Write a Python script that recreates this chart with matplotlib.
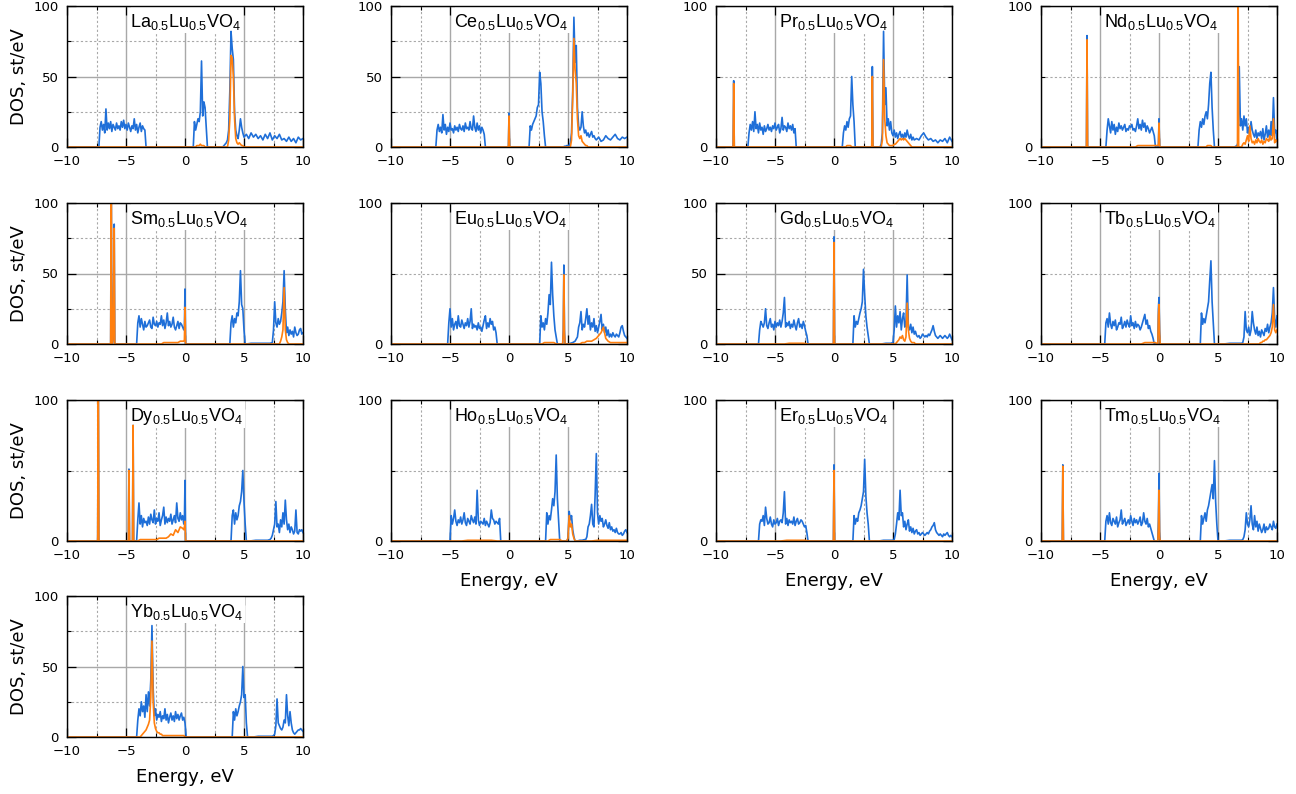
import numpy as np
import matplotlib
matplotlib.use("Agg")
import matplotlib.pyplot as plt
from matplotlib.ticker import MultipleLocator
from matplotlib.patches import Rectangle

# ---------------------------------------------------------------------------
# DOS data: each series is a list of segments (start energy, step, values).
# Values are DOS in states/eV; between segments the DOS is zero.
# "tot" = total DOS, "f" = rare-earth f-states DOS.
# ---------------------------------------------------------------------------
compounds = ["La", "Ce", "Pr", "Nd", "Sm", "Eu", "Gd", "Tb", "Dy", "Ho", "Er", "Tm", "Yb"]
wide_y_ticks = ["La", "Ce", "Sm", "Gd", "Yb"]   # panels labelled 0/50/100

la_tot = [
    (-7.3, 0.1, [0, 14, 18, 12, 16, 10, 27, 12, 17, 13, 18, 11, 16, 14, 12, 17, 13, 15, 12, 18, 14, 19, 13, 16,
                 12, 17, 14, 11, 15, 13, 20, 12, 16, 10, 14, 17, 11, 15, 13, 12, 0]),
    (0.7, 0.1, [0, 18, 12, 16, 20, 18, 25, 61, 22, 32, 28, 14, 0]),
    (3.2, 0.1, [0, 1, 2, 3, 5, 12, 40, 82, 70, 62, 25, 12, 8, 6, 12, 20, 14, 10, 7]),
    (5.2, 0.2, [9, 6, 10, 7, 9, 6, 8, 5, 9, 6, 10, 5, 8, 6, 9, 5, 6, 4, 7, 4, 6, 3, 7, 5, 6]),
]
la_f = [
    (0.9, 0.1, [0, 1, 1, 1, 2, 1, 1, 1, 0]),
    (3.6, 0.1, [0, 5, 20, 65, 63, 50, 20, 6, 3, 2, 3, 2, 1, 1, 0]),
]

ce_tot = [
    (-6.2, 0.1, [0, 12, 16, 11, 14, 10, 23, 12, 16, 9, 14, 11, 17, 12, 13, 10, 15, 12, 14, 11, 16, 13, 12, 15,
                 11, 17, 13, 14, 12, 18, 13, 12, 22, 14, 11, 17, 12, 15, 10, 14, 12, 9, 0]),
    (-0.1, 0.05, [0, 0, 24, 0, 0]),
    (1.7, 0.1, [0, 15, 12, 16, 18, 20, 22, 28, 30, 53, 45, 25, 18, 8, 0]),
    (4.6, 0.1, [0, 0.5, 0.5, 1, 1, 1, 3, 10, 40, 92, 60, 72, 28, 15, 12, 14, 25, 15, 10, 12, 8, 10, 7, 9, 11,
                7, 8, 6, 5]),
    (7.6, 0.2, [7, 4, 5, 8, 6, 5, 7, 9, 6, 5, 7, 6, 7]),
]
ce_f = [
    (-0.1, 0.05, [0, 0, 22, 0, 0]),
    (5.2, 0.1, [0, 5, 35, 77, 55, 45, 20, 8, 6, 8, 4, 3, 2, 1, 1, 0]),
]

pr_tot = [
    (-8.55, 0.05, [0, 47, 0]),
    (-7.3, 0.1, [0, 10, 16, 12, 18, 11, 25, 13, 16, 10, 17, 12, 14, 9, 15, 11, 13, 16, 12, 14, 11, 15, 13, 17,
                 12, 14, 16, 10, 13, 21, 12, 15, 14, 11, 17, 13, 15, 12, 16, 10, 13, 0]),
    (0.7, 0.1, [0, 10, 15, 12, 18, 14, 20, 22, 50, 30, 18, 0]),
    (3.2, 0.05, [0, 57, 0]),
    (3.9, 0.1, [0, 2, 10, 82, 30, 42, 15, 20, 12, 18, 10, 8, 12, 7, 10, 6, 9, 11, 7, 9, 6, 10, 7, 12, 8, 6, 9,
                5, 7, 5]),
    (7.0, 0.2, [6, 5, 8, 10, 7, 5, 6, 4, 5, 3, 5, 4, 6, 3, 7, 4]),
]
pr_f = [
    (-8.55, 0.05, [0, 45, 0]),
    (1.0, 0.1, [0, 1, 1, 1, 1, 0]),
    (3.2, 0.05, [0, 50, 0]),
    (4.0, 0.1, [0, 5, 62, 20, 8, 3, 2, 1, 1, 1, 1, 2, 2, 3, 4, 5, 6, 5, 6, 5, 6, 5, 4, 3, 2, 1, 0]),
]

nd_tot = [
    (-6.15, 0.05, [0, 79, 0]),
    (-4.5, 0.1, [0, 12, 20, 15, 10, 18, 12, 16, 9, 14, 11, 17, 13, 15, 12, 14, 16, 11, 13, 12, 15, 14, 16, 12,
                 13, 11, 15, 20, 13, 16, 12, 19, 14, 17, 11, 15, 13, 10, 12, 14, 11, 8, 0]),
    (-0.1, 0.05, [0, 0, 20, 0, 0]),
    (3.3, 0.1, [0, 12, 18, 14, 20, 16, 22, 25, 20, 30, 45, 53, 28, 12, 0]),
    (6.4, 0.1, [0, 0.5, 1, 3, 57, 15, 20, 12, 22, 15, 20, 10, 14, 8, 18, 12, 9, 7, 12, 6, 10, 8, 11, 6, 13, 5,
                9, 15, 7, 12, 5, 18, 8, 35, 10, 12, 4]),
]
nd_f = [
    (-6.15, 0.05, [0, 76, 0]),
    (-2.0, 0.2, [0, 1, 1, 1, 1, 1, 1, 1, 1, 1]),
    (-0.1, 0.05, [1, 1, 17, 1, 0]),
    (4.0, 0.1, [0, 1, 1, 1, 1, 0]),
    (6.6, 0.05, [0, 0, 130, 0, 0]),
    (7.0, 0.1, [0, 2, 3, 2, 5, 8, 4, 15, 6, 3, 4, 2, 5, 3, 6, 4, 3, 5, 2, 4, 3, 6, 5, 4, 8, 5, 6, 20, 3, 5, 4]),
]

sm_tot = [
    (-6.35, 0.05, [0, 0, 130, 0, 0, 3, 40, 85, 0]),
    (-4.1, 0.1, [0, 15, 20, 12, 18, 14, 10, 16, 12, 13, 15, 17, 12, 11, 19, 14, 13, 16, 12, 15, 14, 20, 13, 17,
                 11, 15, 22, 13, 16, 12, 14, 19, 12, 10, 13, 16, 11, 15, 14, 12, 10]),
    (-0.05, 0.05, [12, 39, 0]),
    (3.8, 0.1, [0, 15, 20, 12, 18, 15, 22, 20, 30, 52, 28, 25, 10, 0]),
    (5.2, 0.4, [0, 0.5, 0.5, 0.5, 0.5, 0.5]),
    (7.4, 0.1, [1, 10, 30, 15, 12, 18, 14, 16, 22, 30, 52, 25, 8, 12, 6, 10, 7, 9, 5, 12, 8, 6, 7, 10, 11, 7, 8]),
]
sm_f = [
    (-6.35, 0.05, [0, 0, 130, 0, 0, 3, 38, 82, 0]),
    (-2.0, 0.2, [0, 1, 1, 1, 1, 1, 1, 1, 2, 2]),
    (-0.1, 0.05, [2, 3, 26, 0]),
    (8.0, 0.1, [0, 2, 5, 10, 40, 10, 3, 1, 0]),
]

eu_tot = [
    (-5.2, 0.1, [0, 15, 25, 12, 18, 10, 14, 16, 11, 20, 13, 12, 17, 14, 11, 15, 13, 18, 12, 16, 25, 11, 14, 12,
                 13, 10, 15, 11, 12, 9, 13, 17, 20, 11, 15, 12, 18, 14, 16, 10, 12, 8, 0]),
    (2.6, 0.1, [0, 20, 12, 15, 10, 18, 14, 22, 35, 28, 58, 35, 20, 10, 5, 0]),
    (4.55, 0.05, [0, 10, 56, 10, 0]),
    (5.0, 0.2, [0, 0.5, 1, 2, 5]),
    (5.9, 0.1, [12, 15, 23, 10, 14, 12, 18, 25, 14, 20, 10, 15, 12, 18, 9, 13, 8, 12, 16, 21, 10, 14, 8, 12, 6,
                10, 5, 7, 5, 8, 6, 5, 7, 6, 5, 8, 12, 13, 9, 6, 5, 4]),
]
eu_f = [
    (2.8, 0.2, [0, 1, 1, 1, 1, 1, 0]),
    (4.55, 0.05, [0, 8, 49, 8, 0]),
    (6.0, 0.2, [0, 1, 1, 2, 2, 2, 3, 4, 6, 8, 12, 4, 2, 1, 1, 1, 1, 1, 1, 1, 1]),
]

gd_tot = [
    (-6.4, 0.1, [0, 10, 16, 14, 12, 15, 25, 13, 11, 15, 18, 12, 14, 10, 16, 12, 15, 13, 17, 12, 16, 22, 33, 12,
                 15, 13, 16, 11, 14, 12, 17, 13, 10, 15, 18, 12, 14, 11, 16, 13, 9, 6, 0]),
    (-0.05, 0.05, [0, 76, 0]),
    (1.6, 0.1, [0, 20, 12, 16, 14, 18, 22, 25, 30, 53, 35, 20, 12, 6, 0]),
    (4.0, 0.4, [0, 0.5, 0.5]),
    (5.0, 0.1, [1, 10, 27, 12, 20, 15, 23, 10, 18, 22, 12, 15, 49, 12, 10, 14, 8, 12, 7, 9, 6, 5, 6, 4, 5, 7, 6,
                5, 6, 5, 7, 6, 8, 10, 13, 9, 6, 5, 4, 5, 6, 5, 4, 5, 6, 5, 4, 5, 7, 5, 3]),
]
gd_f = [
    (-4.2, 0.4, [0, 0.5, 0.5, 0.5, 0.5, 0]),
    (-0.05, 0.05, [0, 72, 0]),
    (5.2, 0.1, [0, 1, 2, 3, 5, 4, 6, 3, 2, 5, 29, 10, 4, 2, 1, 1, 1, 0]),
]

tb_tot = [
    (-4.6, 0.1, [0, 15, 18, 12, 22, 14, 11, 16, 13, 17, 10, 12, 15, 14, 19, 11, 13, 16, 12, 17, 14, 12, 20, 13,
                 15, 11, 16, 12, 14, 13, 10, 12, 15, 18, 21, 14, 17, 11, 13, 9, 7, 4, 0]),
    (-0.1, 0.05, [0, 25, 33, 10, 0]),
    (3.5, 0.1, [0, 22, 14, 18, 15, 20, 25, 30, 45, 59, 30, 15, 0]),
    (5.5, 0.5, [0, 0.5, 0.5, 0.5]),
    (7.1, 0.1, [1, 5, 23, 10, 8, 12, 6, 10, 23, 15, 10, 7, 12, 6, 9, 5, 10, 8, 6, 11, 9, 14, 8, 12, 15, 22, 40,
                18, 12, 20]),
]
tb_f = [
    (-1.5, 0.3, [0, 1, 1, 1, 1]),
    (-0.1, 0.05, [0, 20, 28, 8, 0]),
    (8.5, 0.1, [0, 1, 1, 2, 2, 3, 3, 4, 5, 6, 8, 12, 28, 10, 8, 10]),
]

dy_tot = [
    (-7.4, 0.05, [0, 130, 0]),
    (-4.8, 0.05, [0, 51, 0]),
    (-4.45, 0.05, [0, 82, 0]),
    (-4.1, 0.1, [0, 15, 27, 12, 18, 10, 16, 13, 14, 11, 17, 12, 19, 15, 13, 22, 12, 16, 14, 20, 11, 15, 18, 24,
                 12, 17, 13, 16, 14, 19, 12, 15, 18, 13, 27, 16, 14, 20, 15, 18, 12]),
    (-0.05, 0.05, [15, 43, 0]),
    (3.9, 0.1, [0, 18, 22, 12, 20, 15, 18, 25, 28, 35, 50, 28, 12, 0]),
    (5.5, 0.5, [0, 0.5, 0.5, 0.5]),
    (7.2, 0.1, [1, 2, 4, 8, 12, 28, 10, 12, 6, 15, 10, 20, 12, 29, 15, 8, 12, 6, 10, 8, 5, 7, 22, 6, 5, 8, 7, 8,
                6]),
]
dy_f = [
    (-7.4, 0.05, [0, 130, 0]),
    (-4.8, 0.05, [0, 50, 0]),
    (-4.45, 0.05, [0, 82, 0]),
    (-4.0, 0.2, [0, 1, 1, 1, 1, 1, 1, 1, 1, 2, 2, 2, 2, 3, 5, 4, 8, 6, 10, 9]),
    (-0.1, 0.05, [8, 10, 14, 0]),
]

ho_tot = [
    (-5.0, 0.1, [0, 18, 12, 16, 22, 14, 11, 15, 13, 17, 12, 15, 20, 13, 11, 16, 14, 12, 18, 15, 13, 17, 12, 36,
                 15, 11, 14, 13, 12, 16, 11, 14, 12, 10, 13, 22, 16, 15, 12, 14, 13, 12, 16, 0]),
    (3.1, 0.1, [0, 20, 12, 18, 15, 22, 30, 25, 35, 61, 30, 15, 0]),
    (4.9, 0.1, [0, 2, 21, 15, 18, 8, 3, 0]),
    (5.8, 0.2, [0, 0.5, 0.5, 1]),
    (6.5, 0.1, [1, 3, 10, 12, 18, 26, 12, 10, 33, 62, 20, 12, 18, 14, 16, 10, 12, 15, 11, 9, 13, 8, 10, 7, 8, 6,
                9, 6, 5, 5, 6, 4, 5, 7, 8, 6]),
]
ho_f = [
    (-4.0, 0.5, [0, 0.5, 0.5, 0.5, 0.5, 0.5, 0]),
    (3.3, 0.2, [0, 1, 1, 1, 1, 1, 0]),
    (4.9, 0.1, [0, 2, 18, 10, 12, 5, 2, 0]),
    (7.0, 0.5, [0, 0.5, 0.5, 0.5, 0.5, 0.5, 0.5]),
]

er_tot = [
    (-6.4, 0.1, [0, 12, 15, 14, 18, 11, 24, 16, 12, 13, 17, 12, 10, 15, 12, 13, 16, 11, 14, 15, 13, 20, 35, 12,
                 16, 11, 15, 13, 14, 12, 17, 11, 14, 16, 12, 13, 15, 14, 12, 10, 11, 6, 0]),
    (-0.05, 0.05, [0, 54, 0]),
    (1.6, 0.1, [0, 18, 12, 16, 14, 20, 22, 25, 30, 35, 58, 32, 20, 12, 0]),
    (3.8, 0.4, [0, 0.5, 0.5, 0.5]),
    (5.1, 0.1, [1, 5, 12, 20, 15, 36, 18, 20, 10, 14, 8, 12, 15, 7, 10, 6, 9, 5, 7, 8, 5, 6, 4, 5, 6, 5, 4, 5, 6,
                5, 7, 8, 10, 11, 13, 8, 6, 5, 4, 5, 4, 3, 5, 4, 5, 6, 4, 3, 4, 3]),
]
er_f = [
    (-4.5, 0.5, [0, 0.5, 0.5, 0.5, 0.5, 0]),
    (-0.05, 0.05, [0, 50, 0]),
]

tm_tot = [
    (-8.2, 0.05, [0, 54, 0]),
    (-4.6, 0.1, [0, 14, 18, 12, 20, 13, 11, 16, 14, 12, 17, 10, 13, 15, 22, 12, 14, 16, 11, 13, 15, 12, 18, 14,
                 11, 16, 13, 15, 12, 14, 17, 11, 13, 20, 14, 12, 16, 10, 12, 9, 6, 3, 0]),
    (-0.1, 0.05, [0, 15, 48, 5, 0]),
    (3.5, 0.1, [0, 18, 12, 16, 20, 14, 22, 25, 30, 35, 40, 30, 57, 28, 12, 0]),
    (5.5, 0.5, [0, 0.5, 0.5, 0.5]),
    (7.1, 0.1, [1, 3, 8, 20, 12, 10, 15, 25, 12, 8, 18, 10, 14, 7, 12, 9, 6, 8, 12, 6, 10, 8, 9, 12, 10, 8, 14,
                10, 9, 12]),
]
tm_f = [
    (-8.2, 0.05, [0, 53, 0]),
    (-0.1, 0.05, [0, 10, 36, 3, 0]),
]

yb_tot = [
    (-4.1, 0.1, [0, 12, 20, 15, 25, 18, 22, 14, 30, 18, 32, 22, 40, 79, 35, 15, 20, 12, 16, 14, 18, 11, 15, 13,
                 20, 12, 16, 10, 14, 17, 12, 15, 11, 18, 13, 16, 12, 15, 17, 12, 14, 10, 0]),
    (4.0, 0.1, [0, 18, 12, 20, 15, 18, 22, 25, 30, 50, 28, 30, 10, 0]),
    (5.8, 0.4, [0, 0.5, 0.5, 0.5, 0.5]),
    (7.5, 0.1, [1, 2, 8, 27, 10, 8, 6, 5, 7, 12, 10, 30, 15, 8, 18, 10, 5, 3, 2, 3, 4, 5, 5, 6, 5, 4]),
]
yb_f = [
    (-3.8, 0.1, [0, 1, 2, 3, 4, 5, 7, 9, 12, 28, 68, 25, 10, 6, 4, 3, 3, 2, 2, 1, 1, 1, 1, 1, 1, 1, 1, 1, 1, 1,
                 1, 1, 1, 1, 1, 1, 1, 1, 0]),
]

total_dos = [la_tot, ce_tot, pr_tot, nd_tot, sm_tot, eu_tot, gd_tot, tb_tot, dy_tot, ho_tot, er_tot, tm_tot, yb_tot]
f_dos = [la_f, ce_f, pr_f, nd_f, sm_f, eu_f, gd_f, tb_f, dy_f, ho_f, er_f, tm_f, yb_f]

E_MIN, E_MAX = -10.0, 10.0


def curve(segments):
    """Turn (start, step, values) segments into x/y arrays spanning the energy window."""
    xs, ys = [], []
    for start, step, vals in segments:
        for i, v in enumerate(vals):
            x = round(start + i * step, 4)
            if x <= E_MAX + 1e-6:
                xs.append(x)
                ys.append(v)
    if xs[0] > E_MIN:
        xs.insert(0, E_MIN)
        ys.insert(0, 0.0)
    if xs[-1] < E_MAX:
        xs.append(E_MAX)
        ys.append(0.0)
    return np.array(xs), np.array(ys)


plt.rcParams["font.family"] = ["DejaVu Sans"]
plt.rcParams["mathtext.fontset"] = "custom"
plt.rcParams["mathtext.rm"] = "Liberation Sans"
plt.rcParams["mathtext.it"] = "Liberation Sans"

W, H = 1296, 794
fig = plt.figure(figsize=(W / 100, H / 100), dpi=100)

col_left = [67, 391, 716, 1041]
row_top = [6, 203, 400, 596]
ax_w, ax_h = 236, 141

BLUE = "#1f6fd8"
ORANGE = "#ff7f0e"
GRID = "#a8a8a8"

titles = []
for idx, name in enumerate(compounds):
    r, c = divmod(idx, 4)
    left = col_left[c] / W
    bottom = (H - row_top[r] - ax_h) / H
    ax = fig.add_axes([left, bottom, ax_w / W, ax_h / H])
    ax.set_xlim(E_MIN, E_MAX)
    ax.set_ylim(0, 100)
    ax.set_axisbelow(True)

    ax.xaxis.set_major_locator(MultipleLocator(5))
    ax.xaxis.set_minor_locator(MultipleLocator(2.5))
    if name in wide_y_ticks:
        ax.yaxis.set_major_locator(MultipleLocator(50))
        ax.yaxis.set_minor_locator(MultipleLocator(25))
    else:
        ax.yaxis.set_major_locator(MultipleLocator(100))
        ax.yaxis.set_minor_locator(MultipleLocator(50))

    ax.grid(which="major", color=GRID, lw=1.0, ls="-")
    ax.grid(which="minor", color=GRID, lw=0.8, ls=(0, (2, 2)))
    ax.tick_params(which="both", direction="in", top=True, right=True, color="black",
                   labelsize=9.5, pad=6)
    ax.tick_params(which="major", length=6.5, width=0.9)
    ax.tick_params(which="minor", length=3, width=0.8)
    for sp in ax.spines.values():
        sp.set_linewidth(1.0)
        sp.set_color("black")

    x, y = curve(total_dos[idx])
    ax.plot(x, y, color=BLUE, lw=1.2, zorder=2)
    x, y = curve(f_dos[idx])
    ax.plot(x, y, color=ORANGE, lw=1.2, zorder=2.2)

    label = name + r"$_{0.5}$Lu$_{0.5}$VO$_{4}$"
    t = ax.text(0.266, 0.853, label, transform=ax.transAxes, ha="left", va="baseline",
                fontsize=13, family="Liberation Sans", zorder=1.6)
    titles.append((ax, t))

    if c == 0:
        ax.set_ylabel("DOS, st/eV", fontsize=13, labelpad=4)
    if idx >= 9:
        ax.set_xlabel("Energy, eV", fontsize=13, labelpad=7)

# opaque white panel behind each title, running up to the top frame
fig.canvas.draw()
renderer = fig.canvas.get_renderer()
for ax, t in titles:
    bb = t.get_window_extent(renderer).transformed(ax.transAxes.inverted())
    ax.add_patch(Rectangle((bb.x0 + 0.004, bb.y0 - 0.01), bb.width + 0.004, 1.0 - bb.y0 + 0.01,
                           transform=ax.transAxes, fc="white", ec="none", zorder=1.5))

fig.savefig("out.png", dpi=100)
